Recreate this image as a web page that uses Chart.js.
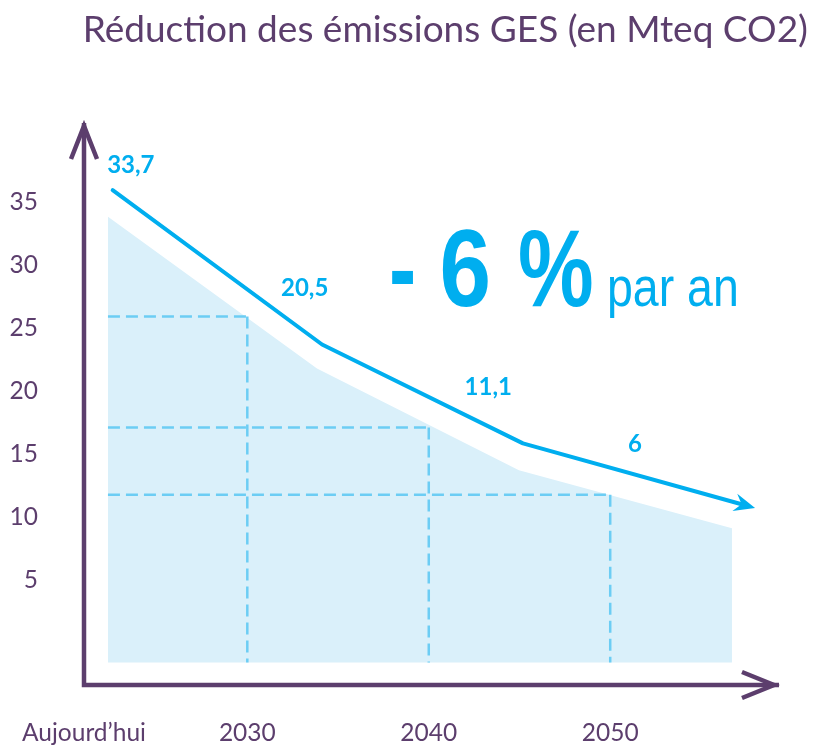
<!DOCTYPE html>
<html><head><meta charset="utf-8">
<style>html,body{margin:0;padding:0;background:#fff;}#wrap{width:820px;height:747px;}</style>
<script src="https://cdn.jsdelivr.net/npm/chart.js@4.4.1/dist/chart.umd.min.js"></script>
</head><body><div id="wrap"><canvas id="c" width="820" height="747"></canvas></div>
<script>
const titleText = 'Réduction des émissions GES (en Mteq CO2)';
const xTickValues = [2021, 2030, 2040, 2050];
const xTickLabels = ['Aujourd’hui', '2030', '2040', '2050'];
const yTickValues = [5, 10, 15, 20, 25, 30, 35];
const fillYears = [2022.32, 2033.84, 2044.97, 2056.71];
const fillValues = [33.82, 21.78, 13.71, 9.12];
const fillBase = -1.53;
const lineYears = [2022.58, 2034.12, 2045.19, 2057.24];
const lineValues = [35.93, 23.69, 15.85, 11.02];
const labelTexts = ['33,7', '20,5', '11,1', '6'];
const labelYears = [2023.58, 2033.16, 2043.28, 2051.37];
const labelValues = [37.32, 27.56, 19.70, 15.16];
const dashYears = [2030, 2040, 2050];
const dashValues = [25.90, 17.11, 11.77];

const PURPLE = '#5C3E6D';
const CYAN = '#00AEEF';

const decor = {
  id: 'decor',
  afterDatasetDraw(chart, args) {
    if (args.index !== 0) return;
    const {ctx, scales: {x, y}} = chart;
    ctx.save();
    ctx.strokeStyle = '#6CCDF4';
    ctx.lineWidth = 2.5;
    ctx.setLineDash([12, 6]);
    const x0 = x.getPixelForValue(fillYears[0]);
    const yb = y.getPixelForValue(fillBase);
    dashYears.forEach((yr, i) => {
      const px = x.getPixelForValue(yr), py = y.getPixelForValue(dashValues[i]);
      ctx.beginPath(); ctx.moveTo(x0, py); ctx.lineTo(px, py); ctx.stroke();
      ctx.beginPath(); ctx.moveTo(px, py); ctx.lineTo(px, yb); ctx.stroke();
    });
    ctx.restore();
  },
  afterDatasetsDraw(chart) {
    const {ctx, chartArea: ca, scales: {x, y}} = chart;
    const pts = chart.getDatasetMeta(1).data;
    const p3 = pts[pts.length - 1], p2 = pts[pts.length - 2];
    let dx = p3.x - p2.x, dy = p3.y - p2.y; const L = Math.hypot(dx, dy); dx /= L; dy /= L;
    const nx = -dy, ny = dx;
    const tx = p3.x + 14 * dx, ty = p3.y + 14 * dy;
    const bx = tx - 21 * dx, by = ty - 21 * dy;
    ctx.save();
    ctx.fillStyle = CYAN;
    ctx.beginPath();
    ctx.moveTo(tx, ty);
    ctx.lineTo(bx + 9 * nx, by + 9 * ny);
    ctx.lineTo(p3.x, p3.y);
    ctx.lineTo(bx - 9 * nx, by - 9 * ny);
    ctx.closePath(); ctx.fill();
    ctx.font = 'bold 24px Lato';
    ctx.textAlign = 'center'; ctx.textBaseline = 'alphabetic';
    labelTexts.forEach((t, i) => ctx.fillText(t, x.getPixelForValue(labelYears[i]), y.getPixelForValue(labelValues[i])));
    const ds = (t, px, py, s) => { ctx.save(); ctx.translate(px, py); ctx.scale(s, 1); ctx.textAlign = 'left'; ctx.fillText(t, 0, 0); ctx.restore(); };
    ctx.font = 'bold 109px "Liberation Sans"';
    ds('-', 389, 306, 0.75);
    ds('6', 439.5, 306, 0.85);
    ds('%', 518, 306, 0.78);
    ctx.font = '56px "Liberation Sans"';
    ds('par an', 607, 306, 0.83);
    ctx.strokeStyle = PURPLE; ctx.lineWidth = 4.5; ctx.lineJoin = 'miter'; ctx.lineCap = 'butt';
    const L0 = ca.left, B0 = ca.bottom, T0 = ca.top, R0 = ca.right - 27;
    ctx.beginPath(); ctx.moveTo(L0, T0 + 4); ctx.lineTo(L0, B0); ctx.lineTo(R0 - 2, B0); ctx.stroke();
    ctx.beginPath(); ctx.moveTo(L0 - 13, T0 + 40); ctx.lineTo(L0, T0 + 7); ctx.lineTo(L0 + 13, T0 + 40); ctx.stroke();
    ctx.beginPath(); ctx.moveTo(R0 - 39, B0 - 13); ctx.lineTo(R0 - 7, B0); ctx.lineTo(R0 - 39, B0 + 13); ctx.stroke();
    ctx.restore();
  }
};

new Chart(document.getElementById('c'), {
  type: 'line',
  data: {
    datasets: [
      { data: fillYears.map((v, i) => ({x: v, y: fillValues[i]})), borderWidth: 0, backgroundColor: '#DAF0FA',
        fill: {value: fillBase}, pointRadius: 0, tension: 0 },
      { data: lineYears.map((v, i) => ({x: v, y: lineValues[i]})), borderColor: CYAN, borderWidth: 4, fill: false,
        pointRadius: 0, tension: 0, borderCapStyle: 'round', borderJoinStyle: 'round' }
    ]
  },
  options: {
    responsive: false, animation: false,
    layout: {padding: {left: 0, right: 12, top: 0, bottom: 0}},
    plugins: {
      legend: {display: false}, tooltip: {enabled: false},
      title: {display: true, text: titleText, align: 'end', color: PURPLE,
        font: {family: 'Lato', size: 37, weight: 'normal'}, padding: {top: 8, bottom: 66.6}}
    },
    scales: {
      x: {type: 'linear', min: 2021, max: 2060.9,
        grid: {display: false, drawTicks: true, tickLength: 33}, border: {display: false},
        afterBuildTicks: s => { s.ticks = xTickValues.map(v => ({value: v})); },
        afterFit: s => { s.height = 62; },
        ticks: {autoSkip: false, maxRotation: 0, padding: 0, color: PURPLE,
          font: {family: 'Lato', size: 24.5}, callback: (v, i) => xTickLabels[i]}},
      y: {type: 'linear', min: -3.31, max: 41.57,
        grid: {display: false, drawTicks: true, tickLength: 46}, border: {display: false},
        afterBuildTicks: s => { s.ticks = yTickValues.map(v => ({value: v})); },
        afterFit: s => { s.width = 84; },
        ticks: {padding: 0, color: PURPLE, font: {family: 'Lato', size: 24.5}, callback: v => String(v)}}
    }
  },
  plugins: [decor]
});
</script></body></html>
